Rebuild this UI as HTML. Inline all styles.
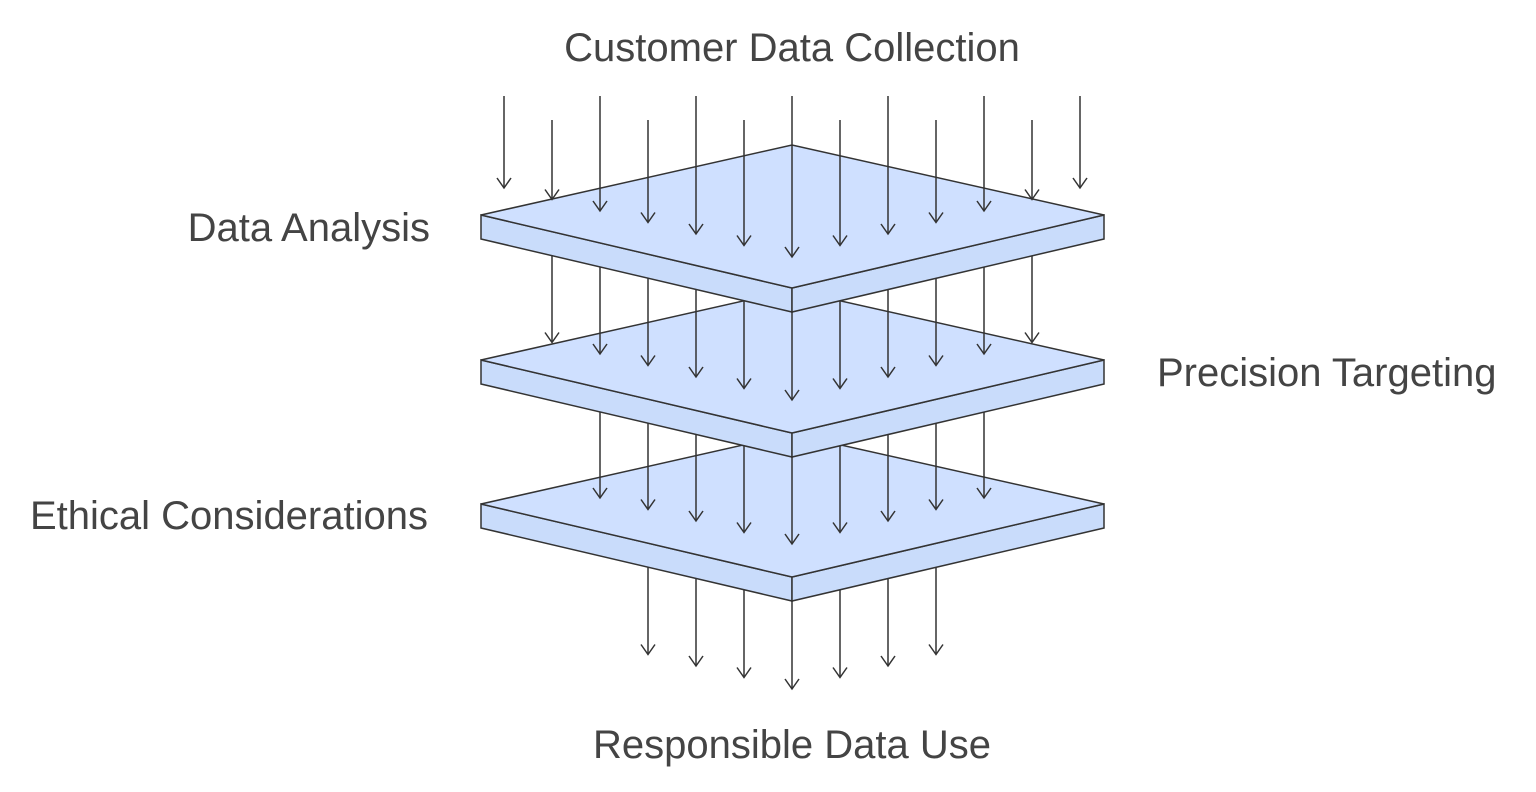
<!DOCTYPE html>
<html><head><meta charset="utf-8"><style>
html,body{margin:0;padding:0;background:#fff;}
svg{display:block;}
text{font-family:"Liberation Sans",Arial,sans-serif;font-size:40px;fill:#444;}
</style></head><body>
<svg width="1536" height="792" viewBox="0 0 1536 792" xmlns="http://www.w3.org/2000/svg">
<g id="all" stroke="#333" stroke-width="1.5" fill="none"></g>
<text x="792" y="61" text-anchor="middle">Customer Data Collection</text>
<text x="430" y="241" text-anchor="end">Data Analysis</text>
<text x="1157" y="386">Precision Targeting</text>
<text x="428" y="529" text-anchor="end">Ethical Considerations</text>
<text x="792" y="758" text-anchor="middle">Responsible Data Use</text>
<script>
var g=document.getElementById('all');var ns='http://www.w3.org/2000/svg';
function el(t,a){var e=document.createElementNS(ns,t);for(var k in a)e.setAttribute(k,a[k]);g.appendChild(e);}
function arrow(x,y1,y2){el('line',{x1:x,y1:y1,x2:x,y2:y2});el('polyline',{points:(x-7)+','+(y2-10)+' '+x+','+y2+' '+(x+7)+','+(y2-10)});}
function plate(cy){
 var L=481,R=1104,C=792,h=70,t=24;
 el('polygon',{points:L+','+cy+' '+C+','+(cy+h+3)+' '+C+','+(cy+h+3+t)+' '+L+','+(cy+t),fill:'#c9dcfb'});
 el('polygon',{points:R+','+cy+' '+C+','+(cy+h+3)+' '+C+','+(cy+h+3+t)+' '+R+','+(cy+t),fill:'#c9dcfb'});
 el('polygon',{points:L+','+cy+' '+C+','+(cy-h)+' '+R+','+cy+' '+C+','+(cy+h+3),fill:'#cfe0ff'});
}
function edge(x,cy){return cy+24+73*(1-Math.abs(x-792)/311);}
for(var x=648;x<=936;x+=48){arrow(x,edge(x,504)-5,689-0.2396*Math.abs(x-792));}
plate(504);
for(var x=600;x<=984;x+=48){arrow(x,edge(x,360)-5,544-0.2396*Math.abs(x-792));}
plate(360);
for(var x=552;x<=1032;x+=48){arrow(x,edge(x,215)-5,400-0.2396*Math.abs(x-792));}
plate(215);
var i=0;for(var x=504;x<=1080;x+=48,i++){arrow(x,i%2?120:96,257-0.2396*Math.abs(x-792));}
</script>
</svg>
</body></html>
